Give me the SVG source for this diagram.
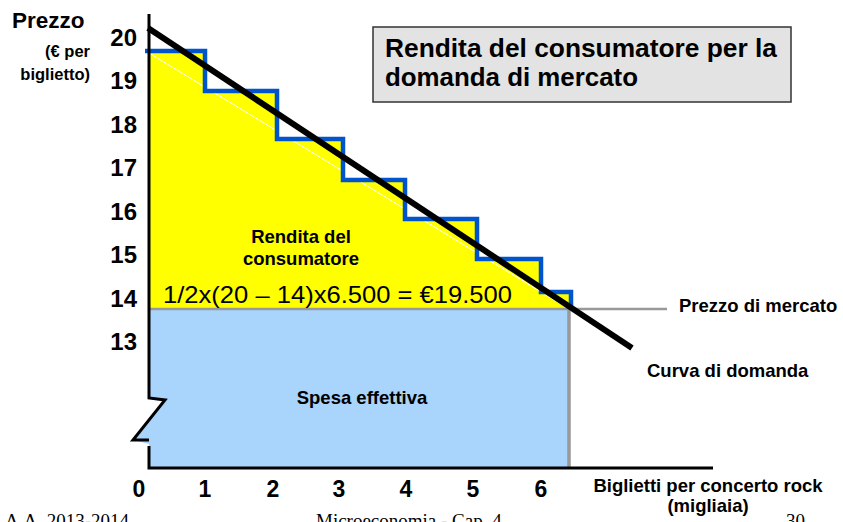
<svg xmlns="http://www.w3.org/2000/svg" width="843" height="522" viewBox="0 0 843 522">
<style>
.b{font-family:"Liberation Sans",Arial,sans-serif;font-weight:bold;fill:#000}
.n{font-family:"Liberation Sans",Arial,sans-serif;fill:#000}
.f{font-family:"Liberation Serif","Times New Roman",serif;fill:#000;font-size:19px}
.ax{fill:none;stroke:#000;stroke-width:3}
</style>
<rect width="843" height="522" fill="#fff"/>
<g id="spesa">
<polygon points="149,309 569,309 569,467 149,467 149,444 133,440 165,400 149,398" fill="#A9D4FC"/>
</g>
<g id="rendita">
<polygon points="149,309 149,51 205,51 205,91 277,91 277,139 343,139 343,180 405,180 405,219 477,219 477,259 541,259 541,292 571,292 571,309" fill="#FFFF00"/>
<line x1="149" y1="53" x2="569" y2="309" stroke="#fff" stroke-width="1"/>
</g>
<g id="lines">
<line x1="149" y1="309" x2="667" y2="309" stroke="#999" stroke-width="2.5"/>
<line x1="569" y1="309" x2="569" y2="467" stroke="#999" stroke-width="3.5"/>
<polyline points="145,51 205,51 205,91 277,91 277,139 343,139 343,180 405,180 405,219 477,219 477,259 541,259 541,292 571,292 571,309" fill="none" stroke="#0055CC" stroke-width="4.5"/>
<line x1="148" y1="28" x2="632" y2="348" stroke="#000" stroke-width="6"/>
</g>
<g id="axes">
<polyline class="ax" points="149,14 149,398 165,400 133,440 149,440"/>
<polyline class="ax" points="149,446 149,468 713,468"/>
</g>
<g id="ylabels" class="b" font-size="24" text-anchor="end">
<text x="137" y="46">20</text>
<text x="137" y="89">19</text>
<text x="137" y="133">18</text>
<text x="137" y="176">17</text>
<text x="137" y="220">16</text>
<text x="137" y="263">15</text>
<text x="137" y="307">14</text>
<text x="137" y="350">13</text>
</g>
<g id="xlabels" class="b" font-size="23" text-anchor="middle">
<text x="139" y="497">0</text>
<text x="205" y="497">1</text>
<text x="273" y="497">2</text>
<text x="339" y="497">3</text>
<text x="406" y="497">4</text>
<text x="473" y="497">5</text>
<text x="541" y="497">6</text>
</g>
<g id="yaxis-title" class="b">
<text x="12" y="28" font-size="22.5">Prezzo</text>
<text x="90" y="57" font-size="16.5" text-anchor="end">(€ per</text>
<text x="90" y="80" font-size="16.5" text-anchor="end">biglietto)</text>
</g>
<g id="title">
<rect x="373" y="27" width="418" height="75" fill="#E3E3E3" stroke="#333" stroke-width="1.5"/>
<text class="b" x="385" y="57" font-size="25" textLength="392" lengthAdjust="spacingAndGlyphs">Rendita del consumatore per la</text>
<text class="b" x="385" y="86" font-size="25" textLength="253" lengthAdjust="spacingAndGlyphs">domanda di mercato</text>
</g>
<g id="rendita-label" class="b" font-size="18.5" text-anchor="middle">
<text x="301" y="243">Rendita del</text>
<text x="301" y="265">consumatore</text>
</g>
<g id="formula">
<text class="n" x="163" y="303" font-size="24.5" textLength="349" lengthAdjust="spacingAndGlyphs">1/2x(20 – 14)x6.500 = €19.500</text>
</g>
<g id="spesa-label">
<text class="b" x="362" y="404" font-size="18.5" text-anchor="middle">Spesa effettiva</text>
</g>
<g id="prezzo-mercato">
<text class="b" x="679" y="312" font-size="18.5">Prezzo di mercato</text>
</g>
<g id="curva">
<text class="b" x="647" y="377" font-size="18.5">Curva di domanda</text>
</g>
<g id="xaxis-title" class="b" font-size="18.5" text-anchor="middle">
<text x="708" y="492">Biglietti per concerto rock</text>
<text x="708" y="512">(migliaia)</text>
</g>
<g id="footer">
<text class="f" x="5" y="527">A.A. 2013-2014</text>
<text class="f" x="316" y="527">Microeconomia - Cap. 4</text>
<text class="f" x="786" y="527">30</text>
</g>
</svg>
